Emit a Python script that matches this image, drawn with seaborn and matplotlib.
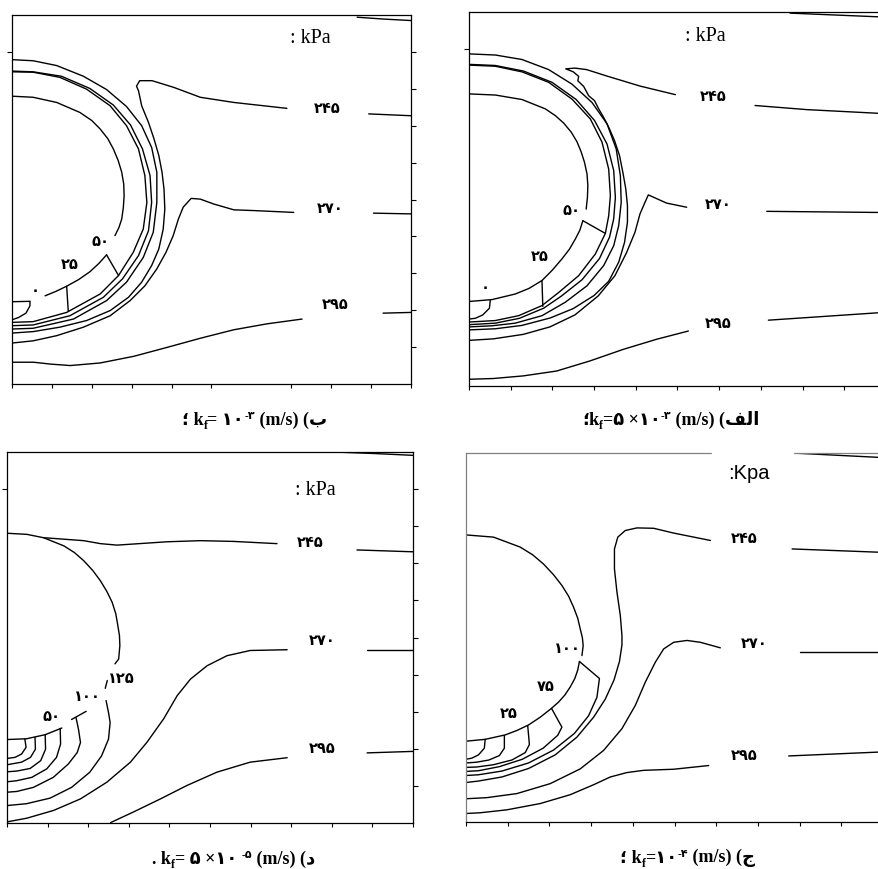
import numpy as np
import matplotlib
matplotlib.use("Agg")
import matplotlib.pyplot as plt
from matplotlib.ticker import FixedLocator
import seaborn as sns

# ---------------- data (axis units 0..10) ----------------
# Panel ب  (top-left, kf = 10^-3)
BE_INNER_UPPER = [(0, 7.80), (0.53, 7.77), (1.12, 7.63), (1.70, 7.36), (2.00, 7.14), (2.21, 6.91), (2.40, 6.65),
                  (2.54, 6.37), (2.66, 6.06), (2.75, 5.74), (2.80, 5.42), (2.81, 5.10), (2.79, 4.78),
                  (2.75, 4.47), (2.68, 4.24), (2.58, 4.02)]
BE_INNER_LOWER = [(2.37, 3.50), (2.18, 3.27), (1.95, 3.04), (1.67, 2.83), (1.37, 2.65), (1.10, 2.51), (0.83, 2.39)]
BE_INNER_END = [(0.45, 2.24), (0, 2.23)]
BE_SEG_50 = [(2.37, 3.50), (2.67, 2.94)]
BE_SEG_25 = [(1.37, 2.65), (1.41, 1.97)]
BE_LOBE_0 = [(0.45, 2.24), (0.45, 2.12), (0.35, 1.92), (0.16, 1.80), (0, 1.74)]
BE_ARC_1 = [(0, 8.46), (0.53, 8.45), (1.20, 8.31), (1.87, 7.99), (2.46, 7.54), (2.87, 7.00), (3.17, 6.37),
            (3.33, 5.65), (3.38, 4.92), (3.29, 4.20), (3.04, 3.57), (2.67, 2.94), (2.21, 2.44), (1.37, 1.94),
            (0.53, 1.69), (0, 1.67)]
BE_ARC_2 = [(0, 8.48), (0.53, 8.46), (1.24, 8.34), (1.95, 8.01), (2.54, 7.56), (2.97, 7.02), (3.27, 6.37),
            (3.46, 5.65), (3.50, 4.92), (3.42, 4.15), (3.17, 3.48), (2.77, 2.85), (2.29, 2.35), (1.45, 1.85),
            (0.53, 1.60), (0, 1.58)]
BE_ARC_3 = [(0, 8.79), (0.53, 8.76), (1.12, 8.63), (1.79, 8.34), (2.37, 7.98), (2.87, 7.52), (3.25, 7.00),
            (3.50, 6.41), (3.63, 5.74), (3.63, 4.92), (3.54, 4.11), (3.29, 3.43), (2.87, 2.76), (2.37, 2.26),
            (1.54, 1.76), (0.53, 1.51), (0, 1.49)]
BE_245_RIGHT = [(8.94, 7.32), (10, 7.27)]
BE_245_LEFT = [(6.89, 7.47), (5.56, 7.63), (4.72, 7.77), (4.05, 8.04), (3.51, 8.22), (3.20, 8.22), (3.12, 8.07),
               (3.17, 7.95), (3.25, 7.54), (3.42, 7.09), (3.56, 6.64), (3.68, 6.19), (3.76, 5.74), (3.81, 5.28),
               (3.83, 4.74), (3.79, 4.20), (3.68, 3.66), (3.50, 3.21), (3.25, 2.76), (2.92, 2.35), (2.46, 1.99),
               (1.87, 1.72), (1.20, 1.54), (0.53, 1.42), (0, 1.38)]
BE_270_RIGHT = [(9.06, 4.63), (10, 4.61)]
BE_270_LEFT = [(7.06, 4.65), (6.06, 4.70), (5.56, 4.72), (5.05, 4.88), (4.72, 5.01), (4.49, 5.03), (4.29, 4.79),
               (4.17, 4.47), (4.04, 4.02), (3.86, 3.57), (3.63, 3.12), (3.33, 2.66), (2.96, 2.26), (2.46, 1.85),
               (1.79, 1.54), (1.12, 1.31), (0.53, 1.17), (0, 1.11)]
BE_295_RIGHT = [(9.30, 1.92), (10, 1.94)]
BE_295_LEFT = [(7.27, 1.76), (6.39, 1.63), (5.56, 1.47), (4.72, 1.24), (3.88, 0.99), (3.05, 0.75), (2.21, 0.57),
               (1.46, 0.50), (0.96, 0.54), (0.54, 0.59), (0, 0.59)]
BE_TOP = [(8.65, 9.94), (9.31, 9.89), (10, 9.85)]
BE_LABELS = ["۲۴۵", "۲۷۰", "۲۹۵", "۵۰", "۲۵", "۰"]
BE_LABEL_X = [7.89, 7.98, 8.10, 2.21, 1.46, 0.58]
BE_LABEL_Y = [7.50, 4.79, 2.17, 3.88, 3.27, 2.57]

# Panel الف  (top-right, kf = 5x10^-3)
AL_INNER_UPPER = [(0, 7.81), (0.63, 7.78), (1.27, 7.66), (1.83, 7.41), (2.07, 7.23), (2.27, 7.03), (2.45, 6.79),
                  (2.59, 6.53), (2.69, 6.26), (2.77, 5.98), (2.83, 5.67), (2.85, 5.36), (2.84, 5.04), (2.81, 4.73)]
AL_INNER_LOWER = [(2.73, 4.42), (2.66, 4.17), (2.55, 3.93), (2.41, 3.66), (2.23, 3.40), (2.00, 3.10),
                  (1.75, 2.82), (1.44, 2.61), (1.11, 2.46), (0.55, 2.31), (0, 2.26)]
AL_SEG_50 = [(2.73, 4.42), (3.27, 4.08)]
AL_SEG_25 = [(1.75, 2.82), (1.77, 2.13)]
AL_LOBE_0 = [(0.51, 2.29), (0.49, 2.08), (0.33, 1.90), (0.15, 1.81), (0, 1.79)]
AL_ARC_1 = [(0, 8.58), (0.63, 8.55), (1.27, 8.40), (1.91, 8.12), (2.47, 7.67), (2.91, 7.14), (3.19, 6.52),
            (3.35, 5.80), (3.39, 5.09), (3.35, 4.55), (3.27, 4.08), (3.03, 3.53), (2.63, 2.95), (2.15, 2.50),
            (1.75, 2.15), (1.19, 1.88), (0.63, 1.75), (0, 1.71)]
AL_ARC_2 = [(0, 8.60), (0.63, 8.57), (1.31, 8.42), (1.99, 8.12), (2.57, 7.66), (3.01, 7.10), (3.31, 6.47),
            (3.47, 5.76), (3.51, 5.04), (3.47, 4.47), (3.37, 3.98), (3.13, 3.41), (2.71, 2.84), (2.21, 2.40),
            (1.79, 2.08), (1.21, 1.81), (0.63, 1.68), (0, 1.64)]
AL_ARC_3 = [(0, 8.88), (0.63, 8.85), (1.27, 8.73), (1.91, 8.46), (2.47, 8.07), (2.95, 7.58), (3.31, 7.01),
            (3.53, 6.34), (3.63, 5.62), (3.65, 4.91), (3.59, 4.29), (3.47, 3.75), (3.23, 3.22), (2.83, 2.68),
            (2.31, 2.24), (1.75, 1.88), (1.11, 1.68), (0.55, 1.61), (0, 1.58)]
AL_245_RIGHT = [(6.86, 7.50), (8.10, 7.39), (9.84, 7.29), (10, 7.28)]
AL_245_LEFT = [(4.95, 7.79), (4.10, 8.02), (3.30, 8.29), (2.82, 8.46), (2.54, 8.50), (2.32, 8.48), (2.50, 8.40),
               (2.63, 8.28), (2.61, 8.16), (2.75, 8.01), (2.87, 7.76), (3.01, 7.63), (3.11, 7.41), (3.23, 7.18),
               (3.35, 6.92), (3.49, 6.56), (3.61, 6.16), (3.69, 5.71), (3.76, 5.27), (3.80, 4.82), (3.80, 4.38),
               (3.73, 3.84), (3.59, 3.31), (3.35, 2.80), (3.00, 2.42), (2.50, 2.07), (1.95, 1.82), (1.27, 1.62),
               (0.63, 1.53), (0, 1.50)]
AL_270_RIGHT = [(7.14, 4.67), (9.84, 4.64), (10, 4.64)]
AL_270_LEFT = [(5.22, 4.78), (4.74, 4.89), (4.30, 5.11), (4.22, 4.91), (4.10, 4.60), (3.98, 4.11), (3.78, 3.57),
               (3.50, 2.95), (3.10, 2.41), (2.54, 1.90), (1.94, 1.58), (1.30, 1.38), (0.58, 1.26), (0, 1.22)]
AL_295_RIGHT = [(7.18, 1.76), (9.84, 1.96), (10, 1.97)]
AL_295_LEFT = [(5.26, 1.47), (4.50, 1.25), (3.70, 0.98), (2.90, 0.67), (2.10, 0.40), (1.30, 0.27), (0.58, 0.20),
               (0, 0.18)]
AL_TOP = [(7.70, 9.97), (9.84, 9.87), (10, 9.86)]
AL_LABELS = ["۲۴۵", "۲۷۰", "۲۹۵", "۵۰", "۲۵", "۰"]
AL_LABEL_X = [5.86, 5.98, 5.98, 2.46, 1.70, 0.38]
AL_LABEL_Y = [7.77, 4.87, 1.70, 4.73, 3.48, 2.66]

# Panel د  (bottom-left, kf = 5x10^-5)
DA_ARC = [(0, 7.81), (0.49, 7.78), (0.90, 7.69), (1.40, 7.47), (1.66, 7.29), (1.89, 7.07), (2.11, 6.81),
          (2.30, 6.53), (2.46, 6.24), (2.59, 5.95), (2.68, 5.64), (2.73, 5.32), (2.77, 5.05), (2.78, 4.78),
          (2.75, 4.42), (2.66, 4.29)]
DA_245_RIGHT = [(8.62, 7.36), (10, 7.31)]
DA_245_LEFT = [(6.65, 7.53), (5.58, 7.59), (4.76, 7.61), (3.94, 7.58), (3.12, 7.52), (2.71, 7.49), (2.30, 7.53),
               (1.89, 7.61), (1.40, 7.65), (0.90, 7.69)]
DA_PIECE_1 = [(2.47, 3.84), (2.42, 3.63)]
DA_PIECE_2 = [(1.95, 3.01), (1.59, 2.79)]
DA_INNER_END = [(1.35, 2.56), (0.94, 2.38), (0.48, 2.27), (0, 2.25)]
DA_ARC_1 = [(0.44, 2.26), (0.47, 2.04), (0.36, 1.86), (0.20, 1.77), (0, 1.74)]
DA_ARC_2 = [(0.69, 2.31), (0.70, 1.99), (0.58, 1.77), (0.36, 1.64), (0, 1.57)]
DA_ARC_3 = [(0.94, 2.38), (0.95, 1.99), (0.83, 1.68), (0.57, 1.47), (0.24, 1.40), (0, 1.38)]
DA_ARC_4 = [(1.31, 2.55), (1.32, 2.13), (1.22, 1.77), (0.98, 1.46), (0.61, 1.23), (0.24, 1.14), (0, 1.11)]
DA_ARC_5 = [(1.70, 2.84), (1.76, 2.53), (1.81, 2.17), (1.73, 1.90), (1.51, 1.59), (1.14, 1.23), (0.65, 0.96),
            (0.24, 0.85), (0, 0.83)]
DA_ARC_6 = [(2.44, 3.30), (2.50, 2.98), (2.54, 2.71), (2.50, 2.26), (2.33, 1.81), (2.04, 1.37), (1.59, 0.96),
            (1.06, 0.67), (0.48, 0.52), (0, 0.47)]
DA_270_RIGHT = [(8.87, 4.65), (10, 4.65)]
DA_270_LEFT = [(6.90, 4.67), (5.99, 4.65), (5.42, 4.51), (4.93, 4.24), (4.52, 3.88), (4.19, 3.43), (3.86, 2.81),
               (3.45, 2.18), (3.04, 1.64), (2.46, 1.10), (1.81, 0.65), (1.15, 0.34), (0.49, 0.13), (0, 0.03)]
DA_295_RIGHT = [(8.87, 1.89), (10, 1.93)]
DA_295_LEFT = [(6.90, 1.76), (5.99, 1.64), (5.17, 1.37), (4.43, 1.01), (3.78, 0.65), (3.12, 0.30), (2.55, 0.01)]
DA_TOP = [(8.05, 10.0), (9.03, 9.96), (10, 9.91)]
DA_LABELS = ["۲۴۵", "۲۷۰", "۲۹۵", "۱۲۵", "۱۰۰", "۵۰"]
DA_LABEL_X = [7.47, 7.76, 7.76, 2.82, 1.98, 1.10]
DA_LABEL_Y = [7.58, 4.94, 2.03, 3.93, 3.43, 2.89]

# Panel ج  (bottom-right, kf = 10^-4)
JI_INNER_UPPER = [(0, 7.78), (0.66, 7.72), (1.30, 7.45), (1.60, 7.24), (1.86, 6.99), (2.10, 6.70), (2.30, 6.41),
                  (2.46, 6.12), (2.58, 5.82), (2.68, 5.52), (2.74, 5.23), (2.79, 5.00), (2.81, 4.78), (2.78, 4.51)]
JI_INNER_LOWER = [(2.72, 4.35), (2.68, 4.12), (2.61, 3.89), (2.50, 3.66), (2.37, 3.44), (2.22, 3.25),
                  (2.05, 3.08), (1.78, 2.84), (1.50, 2.63), (1.22, 2.48), (0.94, 2.36), (0.46, 2.24), (0, 2.19)]
JI_LOBE = [(0.46, 2.24), (0.44, 2.00), (0.30, 1.82), (0.14, 1.73), (0, 1.70)]
JI_SEG_A = [(0.92, 2.34), (0.92, 2.00), (0.80, 1.80), (0.55, 1.68), (0.25, 1.62), (0, 1.60)]
JI_SEG_B = [(1.48, 2.61), (1.52, 2.10), (1.42, 1.88), (1.10, 1.68), (0.65, 1.55), (0.25, 1.49), (0, 1.48)]
JI_SEG_C = [(2.05, 3.08), (2.30, 2.57), (2.20, 2.35), (1.85, 2.00), (1.35, 1.70), (0.80, 1.50), (0.30, 1.39),
            (0, 1.37)]
JI_SEG_100 = [(2.72, 4.35), (3.20, 3.89), (3.14, 3.38), (2.94, 2.88), (2.60, 2.40), (2.10, 1.95), (1.50, 1.60),
              (0.86, 1.38), (0.30, 1.28), (0, 1.26)]
JI_245_RIGHT = [(7.82, 7.40), (9.93, 7.31), (10, 7.30)]
JI_245_LEFT = [(5.86, 7.63), (4.98, 7.83), (4.50, 7.96), (4.10, 7.97), (3.82, 7.90), (3.64, 7.72), (3.56, 7.40),
               (3.56, 6.86), (3.62, 6.23), (3.70, 5.60), (3.74, 5.05), (3.74, 4.80), (3.68, 4.35), (3.55, 3.85),
               (3.34, 3.33), (3.06, 2.84), (2.66, 2.30), (2.14, 1.82), (1.50, 1.45), (0.86, 1.22), (0.30, 1.11),
               (0, 1.07)]
JI_270_RIGHT = [(8.02, 4.62), (10, 4.62)]
JI_270_LEFT = [(6.10, 4.72), (5.62, 4.87), (5.30, 4.92), (4.98, 4.87), (4.74, 4.69), (4.54, 4.33), (4.30, 3.79),
               (4.06, 3.16), (3.74, 2.53), (3.30, 1.94), (2.74, 1.44), (2.02, 1.04), (1.22, 0.77), (0.50, 0.66),
               (0, 0.63)]
JI_295_RIGHT = [(7.74, 1.79), (10, 1.90)]
JI_295_LEFT = [(5.82, 1.53), (4.98, 1.43), (4.26, 1.40), (3.86, 1.34), (3.46, 1.22), (3.06, 1.01), (2.50, 0.74),
               (1.78, 0.50), (0.98, 0.33), (0.34, 0.25), (0, 0.23)]
JI_TOP = [(7.82, 10.0), (9.93, 9.88), (10, 9.87)]
JI_TOP_GAP = [5.93, 7.82]
JI_LABELS = ["۲۴۵", "۲۷۰", "۲۹۵", "۱۰۰", "۷۵", "۲۵"]
JI_LABEL_X = [6.68, 6.92, 6.68, 2.44, 1.90, 1.02]
JI_LABEL_Y = [7.72, 4.87, 1.82, 4.74, 3.70, 2.98]

UNIT_LABEL_TEXT = [": kPa", ": kPa", ": kPa", ":Kpa"]
UNIT_LABEL_X = [7.48, 5.66, 7.59, 6.78]
UNIT_LABEL_Y = [9.39, 9.36, 9.00, 9.46]

# captions, pieces in visual (left-to-right) order: (text, kind)
CAP_BE = [("؛ k", "n"), ("f", "sub"), ("= ۱۰", "n"), ("-۳", "sup"), (" (m/s) (ب", "n")]
CAP_AL = [("؛k", "n"), ("f", "sub"), ("=۵ ×۱۰", "n"), ("-۳", "sup"), (" (m/s) (\ufed2\ufedf\ufe8d", "n")]
CAP_DA = [(". k", "n"), ("f", "sub"), ("= ۵ ×۱۰ ", "n"), ("-۵", "sup"), (" (m/s) (د", "n")]
CAP_JI = [("؛ k", "n"), ("f", "sub"), ("=۱۰", "n"), ("-۴", "sup"), (" (m/s) (ج", "n")]

# ---------------- figure ----------------
W, H, DPI = 879, 870, 100
sns.set_theme(style="ticks")
plt.rcParams["font.family"] = ["DejaVu Sans"]
fig = plt.figure(figsize=(W / DPI, H / DPI), dpi=DPI)


def rect(left, right, top, bottom):
    return [left / W, 1 - bottom / H, (right - left) / W, (bottom - top) / H]


ax_be = fig.add_axes(rect(12, 411, 16, 385))
ax_al = fig.add_axes(rect(469, 886, 13, 387))
ax_da = fig.add_axes(rect(7, 413, 453, 824))
ax_ji = fig.add_axes(rect(466, 883, 454, 823))

DIGIT_FONT = ["DejaVu Sans"]
SERIF = ["Liberation Serif", "DejaVu Sans"]


def draw(ax, pts):
    a = np.asarray(pts, dtype=float)
    sns.lineplot(x=a[:, 0], y=a[:, 1], sort=False, estimator=None, ax=ax,
                 color="black", linewidth=1.0)


def style(ax, xticks, left_tick=True, spine_color="black"):
    ax.set_xlim(0, 10)
    ax.set_ylim(0, 10)
    ax.set_xlabel("")
    ax.set_ylabel("")
    for s in ax.spines.values():
        s.set_visible(True)
        s.set_linewidth(0.9)
        s.set_color("black")
    ax.set_xticks(xticks)
    ax.set_yticks(range(1, 10))
    ax.yaxis.remove_overlapping_locs = False
    ax.yaxis.set_minor_locator(FixedLocator([9] if left_tick else []))
    ax.tick_params(axis="x", which="major", direction="out", length=3, width=0.8,
                   bottom=True, top=False, labelbottom=False, color="black")
    ax.tick_params(axis="y", which="major", direction="out", length=3.5, width=0.8,
                   left=False, right=True, labelleft=False, labelright=False, color="black")
    ax.tick_params(axis="y", which="minor", direction="out", length=3.5, width=0.8,
                   left=True, right=False, color="black")
    ax.grid(False)
    if spine_color != "black":
        ax.spines["left"].set_color(spine_color)
        ax.spines["top"].set_color(spine_color)


def labels(ax, texts, xs, ys):
    for t, x, y in zip(texts, xs, ys):
        ax.text(x, y, t, ha="center", va="center", fontsize=10.5, fontweight="bold",
                family=DIGIT_FONT, color="black")


# panel ب
for line in [BE_INNER_UPPER, BE_INNER_LOWER, BE_INNER_END, BE_SEG_50, BE_SEG_25, BE_LOBE_0,
             BE_ARC_1, BE_ARC_2, BE_ARC_3, BE_245_RIGHT, BE_245_LEFT, BE_270_RIGHT, BE_270_LEFT,
             BE_295_RIGHT, BE_295_LEFT, BE_TOP]:
    draw(ax_be, line)
labels(ax_be, BE_LABELS, BE_LABEL_X, BE_LABEL_Y)
style(ax_be, [0, 1, 2, 3, 4, 5, 7, 8, 9, 10])

# panel الف
for line in [AL_INNER_UPPER, AL_INNER_LOWER, AL_SEG_50, AL_SEG_25, AL_LOBE_0, AL_ARC_1, AL_ARC_2,
             AL_ARC_3, AL_245_RIGHT, AL_245_LEFT, AL_270_RIGHT, AL_270_LEFT, AL_295_RIGHT,
             AL_295_LEFT, AL_TOP]:
    draw(ax_al, line)
labels(ax_al, AL_LABELS, AL_LABEL_X, AL_LABEL_Y)
style(ax_al, range(11))

# panel د
for line in [DA_ARC, DA_245_RIGHT, DA_245_LEFT, DA_PIECE_1, DA_PIECE_2, DA_INNER_END, DA_ARC_1,
             DA_ARC_2, DA_ARC_3, DA_ARC_4, DA_ARC_5, DA_ARC_6, DA_270_RIGHT, DA_270_LEFT,
             DA_295_RIGHT, DA_295_LEFT, DA_TOP]:
    draw(ax_da, line)
labels(ax_da, DA_LABELS, DA_LABEL_X, DA_LABEL_Y)
style(ax_da, range(11))

# panel ج
for line in [JI_INNER_UPPER, JI_INNER_LOWER, JI_LOBE, JI_SEG_A, JI_SEG_B, JI_SEG_C, JI_SEG_100,
             JI_245_RIGHT, JI_245_LEFT, JI_270_RIGHT, JI_270_LEFT, JI_295_RIGHT, JI_295_LEFT, JI_TOP]:
    draw(ax_ji, line)
labels(ax_ji, JI_LABELS, JI_LABEL_X, JI_LABEL_Y)
style(ax_ji, range(11), left_tick=False, spine_color="#808080")
ax_ji.plot(JI_TOP_GAP, [10, 10], color="white", linewidth=2.5, clip_on=False, zorder=5)

# unit labels
for ax, t, x, y in zip([ax_be, ax_al, ax_da, ax_ji], UNIT_LABEL_TEXT, UNIT_LABEL_X, UNIT_LABEL_Y):
    fam = ["Liberation Sans"] if t.startswith(":K") else ["Liberation Serif"]
    ax.text(x, y, t, ha="center", va="center", fontsize=14.5, family=fam, color="black")


# captions
SIZES = {"n": 13, "sub": 8.5, "sup": 8}
RISE = {"n": 0.0, "sub": -3.0, "sup": 4.5}


def caption(ax, x_px, base_px, pieces):
    prev = None
    prev_kind = "n"
    for text, kind in pieces:
        size = SIZES[kind]
        kw = dict(fontsize=size, fontweight="bold", family=SERIF, color="black")
        if prev is None:
            prev = fig.text(x_px / W, 1 - base_px / H, text, ha="left", va="baseline", **kw)
        else:
            dy = RISE[kind] - RISE[prev_kind] + 0.22 * SIZES[prev_kind] - 0.22 * size
            prev = ax.annotate(text, xy=(1, 0), xycoords=prev, xytext=(0, dy),
                               textcoords="offset points", ha="left", va="bottom",
                               annotation_clip=False, **kw)
        prev_kind = kind


caption(ax_be, 182, 425, CAP_BE)
caption(ax_al, 582, 425, CAP_AL)
caption(ax_da, 152, 864, CAP_DA)
caption(ax_ji, 620, 863, CAP_JI)

fig.savefig("out.png", dpi=DPI)
